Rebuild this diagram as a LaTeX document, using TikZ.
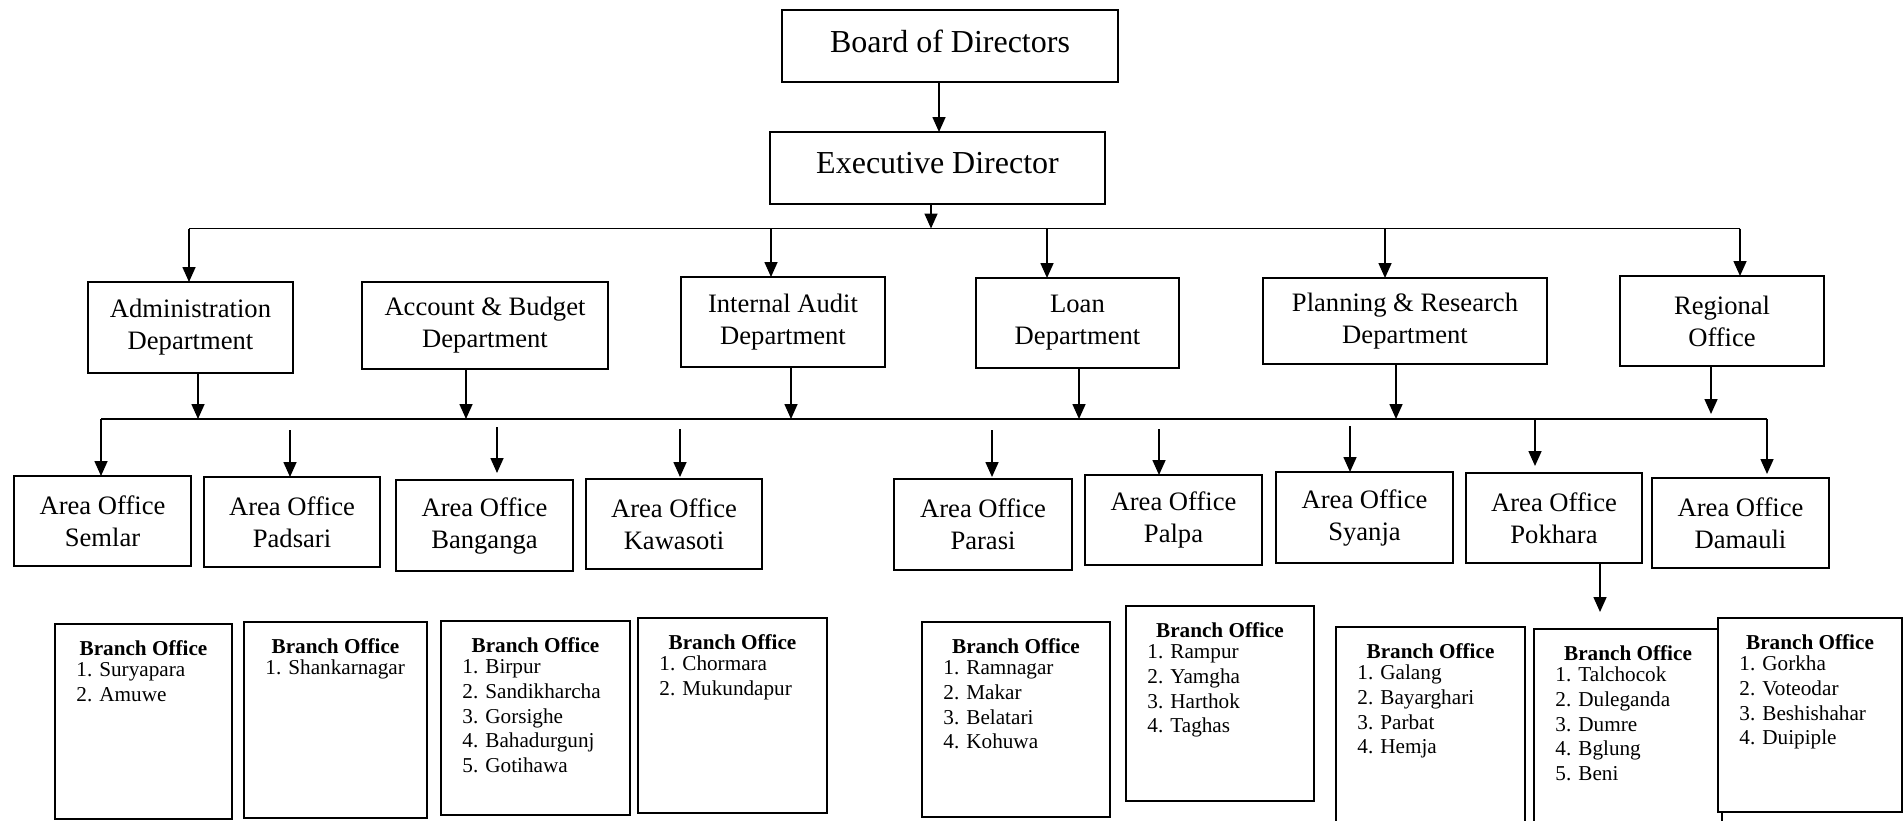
\documentclass[tikz,border=0pt]{standalone}
\usepackage{fontspec}
\setmainfont{Liberation Serif}
\usetikzlibrary{arrows.meta,fit}

% framed box with centred text: name, left, top, right, bottom, text style, text
\newcommand\obox[7]{%
  \node[box, fit={(#2,#3) (#4,#5)}] (#1) {};
  \node[#6, align=center, inner sep=0pt] (#1-t) at (#1.center) {#7};
}

% branch office box: name, left, top, right, bottom, list of branches
\newcommand\branchbox[6]{%
  \node[bbox, fit={(#2,#3) (#4,#5)}] (#1) {};
  \node[btitle] (#1-h) at ({(#2+#4)/2},{#3+24}) {Branch Office};
  \foreach \t [count=\i] in {#6} {
    \node[bitem] (#1-\i) at ({#2+21},{#3+48+(\i-1)*24.6}) {\i. \t};
  }
}

\begin{document}
\begin{tikzpicture}[x=0.5pt, y=-0.5pt,
  box/.style={draw, line width=0.85pt, inner sep=0pt, outer sep=0pt},
  big/.style={font=\fontsize{16}{19}\selectfont, yshift=2.5pt},
  mid/.style={font=\fontsize{13.3}{16}\selectfont},
  bbox/.style={draw, fill=white, line width=0.85pt, inner sep=0pt, outer sep=0pt},
  btitle/.style={font=\fontsize{10.6}{12.4}\selectfont\bfseries, inner sep=0pt},
  bitem/.style={font=\fontsize{10.6}{12.4}\selectfont, anchor=west, inner sep=0pt,
                text height=7.2pt, text depth=2.3pt},
  bus/.style={line width=0.8pt},
  arr/.style={line width=0.8pt, -{Triangle[length=7.5pt,width=6.5pt]}}]

\useasboundingbox (0,0) rectangle (1904,820);
\clip (0,0) rectangle (1904,820);

% top of the hierarchy
\obox{board}{782}{10}{1118}{82}{big}{Board of Directors}
\obox{exec}{770}{132}{1105}{204}{big}{Executive Director}

% departments
\obox{admin}{88}{282}{293}{373}{mid}{Administration\\Department}
\obox{account}{362}{282}{608}{369}{mid}{Account \& Budget\\Department}
\obox{audit}{681}{277}{885}{367}{mid}{Internal Audit\\Department}
\obox{loan}{976}{278}{1179}{368}{mid}{Loan\\Department}
\obox{plan}{1263}{278}{1547}{364}{mid}{Planning \& Research\\Department}
\obox{regional}{1620}{276}{1824}{366}{mid}{Regional\\Office}

% area offices
\obox{semlar}{14}{476}{191}{566}{mid}{Area Office\\Semlar}
\obox{padsari}{204}{477}{380}{567}{mid}{Area Office\\Padsari}
\obox{banganga}{396}{480}{573}{571}{mid}{Area Office\\Banganga}
\obox{kawasoti}{586}{479}{762}{569}{mid}{Area Office\\Kawasoti}
\obox{parasi}{894}{479}{1072}{570}{mid}{Area Office\\Parasi}
\obox{palpa}{1085}{475}{1262}{565}{mid}{Area Office\\Palpa}
\obox{syanja}{1276}{472}{1453}{563}{mid}{Area Office\\Syanja}
\obox{pokhara}{1466}{473}{1642}{563}{mid}{Area Office\\Pokhara}
\obox{damauli}{1652}{478}{1829}{568}{mid}{Area Office\\Damauli}

% branch offices
\branchbox{br1}{55}{624}{232}{819}{Suryapara,Amuwe}
\branchbox{br2}{244}{622}{427}{818}{Shankarnagar}
\branchbox{br3}{441}{621}{630}{815}{Birpur,Sandikharcha,Gorsighe,Bahadurgunj,Gotihawa}
\branchbox{br4}{638}{618}{827}{813}{Chormara,Mukundapur}
\branchbox{br5}{922}{622}{1110}{817}{Ramnagar,Makar,Belatari,Kohuwa}
\branchbox{br6}{1126}{606}{1314}{801}{Rampur,Yamgha,Harthok,Taghas}
\branchbox{br7}{1336}{627}{1525}{840}{Galang,Bayarghari,Parbat,Hemja}
\branchbox{br8}{1534}{629}{1722}{840}{Talchocok,Duleganda,Dumre,Bglung,Beni}
\branchbox{br9}{1718}{618}{1902}{812}{Gorkha,Voteodar,Beshishahar,Duipiple}

% board -> executive
\coordinate (k1) at (939,0);
\draw[arr] (k1 |- board.south) -- (k1 |- exec.north);

% executive -> department bus
\coordinate (busA) at (189,228.5);
\coordinate (busB) at (1740,228.5);
\coordinate (k2) at (931,0);
\draw[arr] (k2 |- exec.south) -- (k2 |- busA);
\draw[bus] (busA) -- (busB);
\coordinate (t-audit) at (771,228.5);
\coordinate (t-loan)  at (1047,228.5);
\coordinate (t-plan)  at (1385,228.5);
\draw[arr] (busA) -- (busA |- admin.north);
\draw[arr] (t-audit) -- (t-audit |- audit.north);
\draw[arr] (t-loan) -- (t-loan |- loan.north);
\draw[arr] (t-plan) -- (t-plan |- plan.north);
\draw[arr] (busB) -- (busB |- regional.north);

% departments -> area office bus
\coordinate (busC) at (101,419);
\coordinate (busD) at (1767,419);
\draw[bus] (busC) -- (busD);
\coordinate (u-admin)    at (198,419);
\coordinate (u-account)  at (466,419);
\coordinate (u-audit)    at (791,419);
\coordinate (u-loan)     at (1079,419);
\coordinate (u-plan)     at (1396,419);
\coordinate (u-regional) at (1711,419);
\draw[arr] (u-admin |- admin.south) -- (u-admin);
\draw[arr] (u-account |- account.south) -- (u-account);
\draw[arr] (u-audit |- audit.south) -- (u-audit);
\draw[arr] (u-loan |- loan.south) -- (u-loan);
\draw[arr] (u-plan |- plan.south) -- (u-plan);
\draw[arr, shorten >=2.5pt] (u-regional |- regional.south) -- (u-regional);

% bus -> area offices
\coordinate (d-pokhara) at (1535,419);
\draw[arr] (busC) -- (busC |- semlar.north);
\draw[arr, shorten >=3.5pt] (d-pokhara) -- (d-pokhara |- pokhara.north);
\draw[arr, shorten >=2pt] (busD) -- (busD |- damauli.north);

% short arrows above the other area offices
\coordinate (f-padsari)  at (290,430);
\coordinate (f-banganga) at (497,427);
\coordinate (f-kawasoti) at (680,429);
\coordinate (f-parasi)   at (992,430);
\coordinate (f-palpa)    at (1159,429);
\coordinate (f-syanja)   at (1350,426);
\draw[arr] (f-padsari) -- (f-padsari |- padsari.north);
\draw[arr, shorten >=3.5pt] (f-banganga) -- (f-banganga |- banganga.north);
\draw[arr, shorten >=1pt] (f-kawasoti) -- (f-kawasoti |- kawasoti.north);
\draw[arr, shorten >=1pt] (f-parasi) -- (f-parasi |- parasi.north);
\draw[arr] (f-palpa) -- (f-palpa |- palpa.north);
\draw[arr] (f-syanja) -- (f-syanja |- syanja.north);

% Pokhara -> its branches
\coordinate (k3) at (1600,0);
\draw[arr, shorten >=8.5pt] (k3 |- pokhara.south) -- (k3 |- br8.north);

\end{tikzpicture}
\end{document}
